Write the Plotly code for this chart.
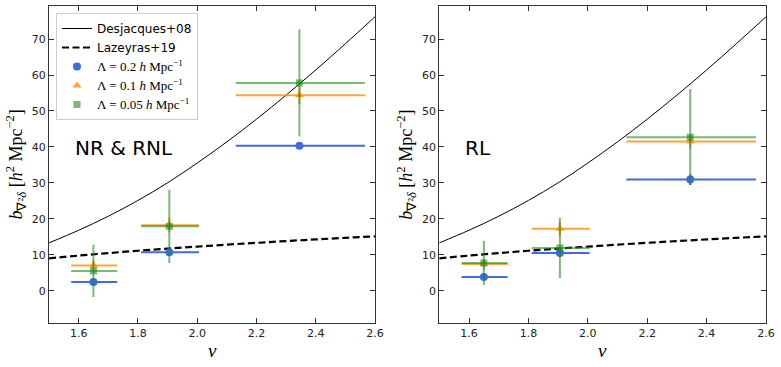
import plotly.graph_objects as go
from plotly.subplots import make_subplots

# ---- data ----
nu_curve = [1.5, 1.6, 1.7, 1.8, 1.9, 2.0, 2.1, 2.2, 2.3, 2.4, 2.5, 2.6]
desjacques = [13.3, 16.8, 20.7, 25.1, 30.0, 35.5, 41.4, 47.7, 54.4, 61.4, 68.7, 76.2]
lazeyras = [9.0, 9.75, 10.45, 11.1, 11.7, 12.25, 12.8, 13.3, 13.8, 14.25, 14.7, 15.1]

nu_bins = [1.65, 1.906, 2.345]
nu_err_minus = [0.075, 0.095, 0.215]
nu_err_plus = [0.08, 0.10, 0.221]

panels = ["NR & RNL", "RL"]
lambda_labels = ["Λ = 0.2 <i>h</i> Mpc<sup>−1</sup>",
                 "Λ = 0.1 <i>h</i> Mpc<sup>−1</sup>",
                 "Λ = 0.05 <i>h</i> Mpc<sup>−1</sup>"]

# left panel (NR & RNL)
b_left = {
    "0.2": [2.4, 10.7, 40.3],
    "0.1": [7.0, 18.2, 54.4],
    "0.05": [5.5, 17.9, 57.8],
}
err_left = {
    "0.2": [0.8, 0.8, 0.8],
    "0.1": [1.5, 2.0, 2.5],
    "0.05": [7.3, 10.2, 14.9],
}
# right panel (RL)
b_right = {
    "0.2": [3.8, 10.5, 30.9],
    "0.1": [7.4, 17.2, 41.5],
    "0.05": [7.7, 11.9, 42.7],
}
err_right = {
    "0.2": [0.8, 0.8, 1.5],
    "0.1": [1.5, 2.0, 2.0],
    "0.05": [6.1, 8.4, 13.4],
}

keys = ["0.2", "0.1", "0.05"]
colors = {"0.2": "#4169E1", "0.1": "rgba(255,140,0,0.78)", "0.05": "rgba(34,139,34,0.6)"}
symbols = {"0.2": "circle", "0.1": "triangle-up", "0.05": "square"}

fig = make_subplots(rows=1, cols=2, horizontal_spacing=0.0)

for col, (bvals, errs) in enumerate([(b_left, err_left), (b_right, err_right)], start=1):
    show = col == 1
    fig.add_trace(go.Scatter(x=nu_curve, y=desjacques, mode="lines",
                             line=dict(color="black", width=1, shape="spline", smoothing=1),
                             name="Desjacques+08", showlegend=show, legendrank=1), row=1, col=col)
    fig.add_trace(go.Scatter(x=nu_curve, y=lazeyras, mode="lines",
                             line=dict(color="black", width=2.2, dash="7px,3.5px",
                                       shape="spline", smoothing=1),
                             name="Lazeyras+19", showlegend=show, legendrank=2), row=1, col=col)
    for i, k in enumerate(keys):
        fig.add_trace(go.Scatter(
            x=nu_bins, y=bvals[k], mode="markers",
            marker=dict(color=colors[k], symbol=symbols[k], size=8 if k != "0.05" else 7,
                        line=dict(width=0)),
            error_x=dict(type="data", symmetric=False, array=nu_err_plus,
                         arrayminus=nu_err_minus, color=colors[k], thickness=2, width=0),
            error_y=dict(type="data", array=errs[k], color=colors[k], thickness=2, width=0),
            name='<span style="font-family:Liberation Serif;font-size:13px">'
                 + lambda_labels[i] + "</span>",
            showlegend=show, legendrank=3 + i), row=1, col=col)

W, H = 781, 367
ml, mr, mt, mb = 49, 15, 6, 44
pw = W - ml - mr
ph = H - mt - mb
left_dom = [0, (375 - ml) / pw]
right_dom = [(439.3 - ml) / pw, 1]

axis_common = dict(showline=True, linecolor="#333", linewidth=1.3, mirror="ticks",
                   ticks="inside", ticklen=5, tickwidth=1.2, tickcolor="#333",
                   showgrid=False, zeroline=False, automargin=False,
                   tickfont=dict(family="DejaVu Sans", size=11, color="#222"))

fig.update_xaxes(range=[1.5, 2.6], tickvals=[1.6, 1.8, 2.0, 2.2, 2.4, 2.6],
                 ticktext=["1.6", "1.8", "2.0", "2.2", "2.4", "2.6"], **axis_common)
fig.update_yaxes(range=[-9, 79.2], tickvals=[0, 10, 20, 30, 40, 50, 60, 70], **axis_common)
fig.update_layout(xaxis=dict(domain=left_dom), xaxis2=dict(domain=right_dom))

annots = []
for x0, x1, lab, tx in [(49, 375, panels[0], 73), (439.3, 765.7, panels[1], 463)]:
    annots.append(dict(text=lab, xref="paper", yref="paper", x=(tx - ml) / pw,
                       y=1 - (148 - mt) / ph, xanchor="left", yanchor="middle",
                       showarrow=False, font=dict(family="DejaVu Sans", size=20, color="black")))
    annots.append(dict(text="<i>ν</i>", xref="paper", yref="paper",
                       x=((x0 + x1) / 2 - ml) / pw, y=-(350 - (H - mb)) / ph,
                       xanchor="center", yanchor="middle", showarrow=False,
                       font=dict(family="Liberation Serif", size=19, color="black")))
    annots.append(dict(text="<i>b</i><sub>∇²<i>δ</i></sub> [<i>h</i><sup>2</sup> Mpc<sup>−2</sup>]",
                       xref="paper", yref="paper", x=(x0 - 33 - ml) / pw, y=0.5,
                       xanchor="center", yanchor="middle", textangle=-90, showarrow=False,
                       font=dict(family="Liberation Serif", size=18, color="black")))

fig.update_layout(
    width=W, height=H, margin=dict(l=ml, r=mr, t=mt, b=mb, autoexpand=False),
    paper_bgcolor="white", plot_bgcolor="white",
    annotations=annots,
    legend=dict(x=(56 - ml) / pw, y=1 - (13 - mt) / ph, xanchor="left", yanchor="top",
                bgcolor="white", bordercolor="#ccc", borderwidth=1,
                font=dict(family="DejaVu Sans", size=12, color="black"),
                tracegroupgap=0, itemwidth=30),
)

fig.write_html("out.html", config={"displayModeBar": False},
               post_script="document.body.style.margin='0';document.body.style.overflow='hidden';")
